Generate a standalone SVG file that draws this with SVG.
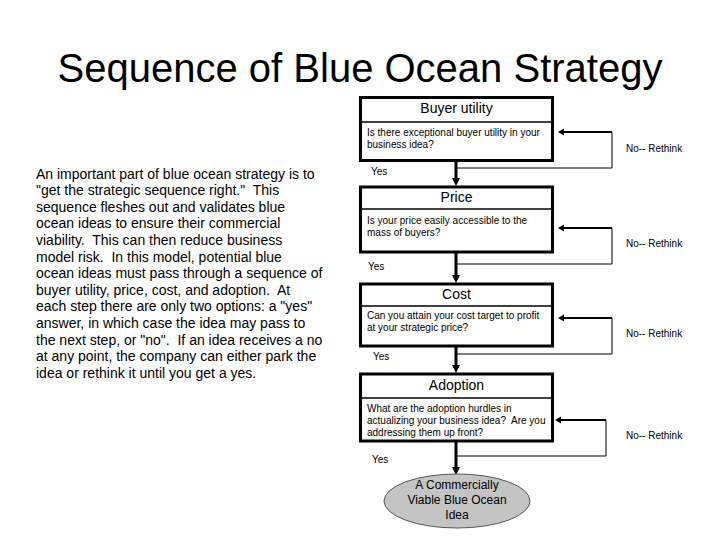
<svg xmlns="http://www.w3.org/2000/svg" width="720" height="540" viewBox="0 0 720 540">
<style>
text{font-family:"Liberation Sans",Arial,sans-serif;fill:#000}
.title{font-size:40px;text-anchor:middle}
.body{font-size:14px;white-space:pre}
.head{font-size:14px;text-anchor:middle}
.q{font-size:10px;white-space:pre}
.lbl{font-size:10px}
.box{fill:#fff;stroke:#000;stroke-width:3}
.div{stroke:#000;stroke-width:1.5}
.down{stroke:#000;stroke-width:3;fill:none}
.thin{stroke:#000;stroke-width:1;fill:none}
.back{stroke:#000;stroke-width:2;fill:none}
.ell{fill:#c4c4c4;stroke:#555;stroke-width:1}
.et{font-size:12px;text-anchor:middle}
</style>
<defs>
<marker id="ad" markerUnits="userSpaceOnUse" markerWidth="9" markerHeight="9" refX="0" refY="4" orient="auto"><path d="M0,0 L8,4 L0,8 z" fill="#000"/></marker>
<marker id="al" markerUnits="userSpaceOnUse" markerWidth="8" markerHeight="8" refX="0" refY="3.5" orient="auto"><path d="M0,0 L6,3.5 L0,7 z" fill="#000"/></marker>
</defs>
<rect width="720" height="540" fill="#fff"/>
<text class="title" x="360" y="82">Sequence of Blue Ocean Strategy</text>
<g id="description">
<text class="body" x="36" y="178.5">An important part of blue ocean strategy is to</text>
<text class="body" x="36" y="195.1">"get the strategic sequence right."  This</text>
<text class="body" x="36" y="211.7">sequence fleshes out and validates blue</text>
<text class="body" x="36" y="228.3">ocean ideas to ensure their commercial</text>
<text class="body" x="36" y="244.9">viability.  This can then reduce business</text>
<text class="body" x="36" y="261.5">model risk.  In this model, potential blue</text>
<text class="body" x="36" y="278.1">ocean ideas must pass through a sequence of</text>
<text class="body" x="36" y="294.7">buyer utility, price, cost, and adoption.  At</text>
<text class="body" x="36" y="311.3">each step there are only two options: a "yes"</text>
<text class="body" x="36" y="327.9">answer, in which case the idea may pass to</text>
<text class="body" x="36" y="344.5">the next step, or "no".  If an idea receives a no</text>
<text class="body" x="36" y="361.1">at any point, the company can either park the</text>
<text class="body" x="36" y="377.7">idea or rethink it until you get a yes.</text>
</g>
<g id="connectors">
<line class="down" x1="456" y1="162" x2="456" y2="178" marker-end="url(#ad)"/>
<line class="down" x1="456" y1="253" x2="456" y2="275" marker-end="url(#ad)"/>
<line class="down" x1="456" y1="347" x2="456" y2="365" marker-end="url(#ad)"/>
<line class="down" x1="456" y1="442" x2="456" y2="467" marker-end="url(#ad)"/>
<path class="thin" d="M456,168 H612 V132"/>
<path class="back" d="M612,132 H564" marker-end="url(#al)"/>
<path class="thin" d="M456,264 H612 V228"/>
<path class="back" d="M612,228 H564" marker-end="url(#al)"/>
<path class="thin" d="M456,354 H612 V318"/>
<path class="back" d="M612,318 H564" marker-end="url(#al)"/>
<path class="thin" d="M456,456 H606 V420"/>
<path class="back" d="M606,420 H561" marker-end="url(#al)"/>
<text class="lbl" x="371" y="175">Yes</text>
<text class="lbl" x="368" y="270">Yes</text>
<text class="lbl" x="373" y="360">Yes</text>
<text class="lbl" x="372" y="463">Yes</text>
<text class="lbl" x="626" y="152">No-- Rethink</text>
<text class="lbl" x="626" y="247">No-- Rethink</text>
<text class="lbl" x="626" y="337">No-- Rethink</text>
<text class="lbl" x="626" y="439">No-- Rethink</text>
</g>
<g id="buyer-utility">
<rect class="box" x="360.5" y="97.5" width="192" height="63"/>
<line class="div" x1="360" y1="122" x2="553" y2="122"/>
<text class="head" x="456.5" y="112.5">Buyer utility</text>
<text class="q" x="367" y="135.5">Is there exceptional buyer utility in your</text>
<text class="q" x="367" y="147.5">business idea?</text>
</g>
<g id="price">
<rect class="box" x="360.5" y="187" width="192" height="65"/>
<line class="div" x1="360" y1="209" x2="553" y2="209"/>
<text class="head" x="456.5" y="202">Price</text>
<text class="q" x="367" y="223.5">Is your price easily accessible to the</text>
<text class="q" x="367" y="236">mass of buyers?</text>
</g>
<g id="cost">
<rect class="box" x="360.5" y="284" width="192" height="62"/>
<line class="div" x1="360" y1="306" x2="553" y2="306"/>
<text class="head" x="456.5" y="299">Cost</text>
<text class="q" x="367" y="318.5">Can you attain your cost target to profit</text>
<text class="q" x="367" y="331">at your strategic price?</text>
</g>
<g id="adoption">
<rect class="box" x="360.5" y="374" width="192" height="67"/>
<line class="div" x1="360" y1="398" x2="553" y2="398"/>
<text class="head" x="456.5" y="389.5">Adoption</text>
<text class="q" x="367" y="411.5">What are the adoption hurdles in</text>
<text class="q" x="367" y="423.5">actualizing your business idea?  Are you</text>
<text class="q" x="367" y="436">addressing them up front?</text>
</g>
<g id="result">
<ellipse class="ell" cx="457" cy="501" rx="73" ry="27"/>
<text class="et" x="457" y="489">A Commercially</text>
<text class="et" x="457" y="504">Viable Blue Ocean</text>
<text class="et" x="457" y="519">Idea</text>
</g>
</svg>
